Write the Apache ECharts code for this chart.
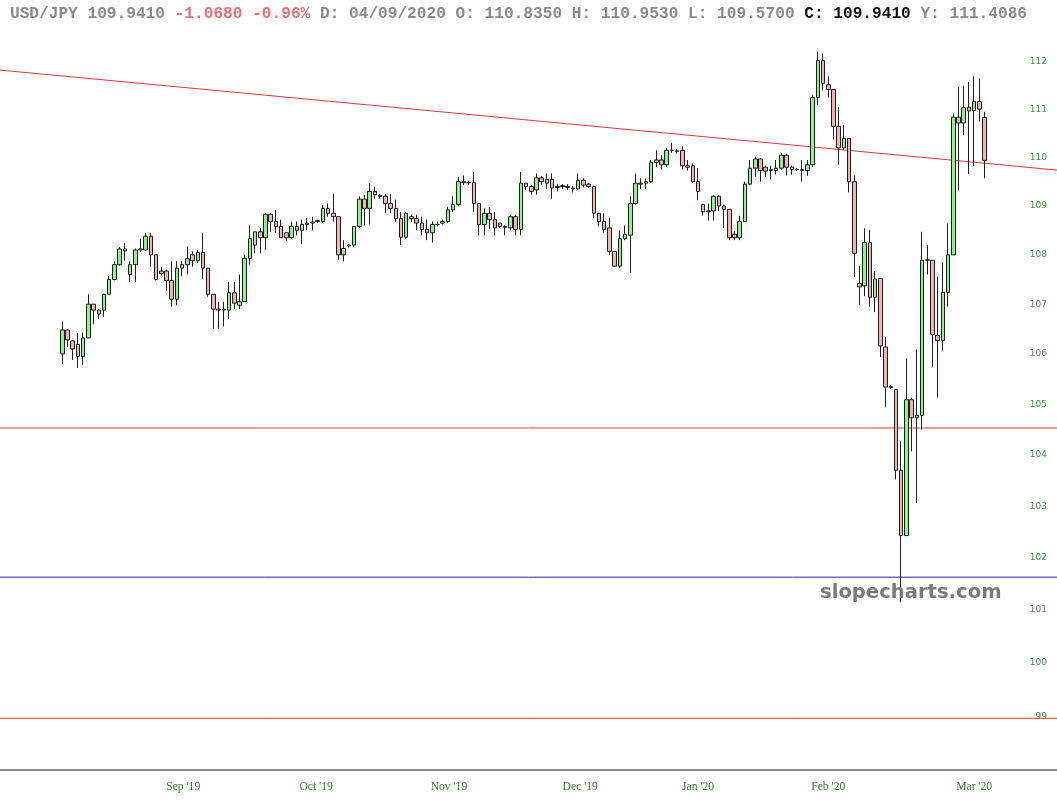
<!DOCTYPE html>
<html><head><meta charset="utf-8">
<script src="https://cdn.jsdelivr.net/npm/echarts@6/dist/echarts.min.js"></script>
<style>html,body{margin:0;padding:0;background:#fff}#c{width:1057px;height:810px}</style>
</head><body><div id="c"></div>
<script>
// ---- data (daily candles, USD/JPY) ----
const openP = [
106.00,106.48,106.26,106.19,105.95,106.32,107.00,106.80,106.88,107.20,
107.50,107.80,108.12,107.60,107.80,108.10,108.10,108.38,108.00,107.62,
107.67,107.48,107.10,107.73,107.80,108.00,107.88,108.05,107.73,107.20,
106.90,106.88,106.88,107.23,106.98,107.05,107.93,108.20,108.47,108.35,
108.83,108.68,108.58,108.45,108.35,108.58,108.50,108.62,108.65,108.68,
108.68,108.95,108.85,108.78,108.00,108.18,108.20,108.58,109.14,108.95,
109.30,109.22,109.20,109.05,108.95,108.74,108.36,108.78,108.74,108.65,
108.52,108.45,108.62,108.65,108.68,108.92,109.03,109.50,109.48,109.48,
109.05,108.62,108.85,108.72,108.65,108.58,108.55,108.78,108.52,109.47,
109.40,109.33,109.58,109.47,109.55,109.40,109.40,109.40,109.37,109.35,
109.53,109.45,109.40,108.85,108.68,108.55,108.07,107.77,108.33,108.40,
109.05,109.45,109.47,109.50,109.90,109.95,109.85,110.15,110.14,110.15,
109.83,109.83,109.50,109.03,108.88,108.90,109.20,109.00,108.93,108.42,
108.35,108.68,109.45,109.78,109.97,109.80,109.73,109.73,109.78,110.05,
109.80,109.75,109.75,109.73,109.85,111.25,112.03,111.52,111.42,110.65,
110.20,110.40,109.50,107.42,107.37,108.25,107.14,107.52,106.14,105.35,
105.29,103.70,102.43,105.09,104.73,104.78,107.89,107.89,106.37,106.27,
107.24,108.00,110.84,110.72,111.05,110.98,111.17,110.835];
const highP = [
106.65,106.50,106.28,106.42,106.43,107.20,107.00,106.90,107.20,107.57,
107.87,108.16,108.24,107.87,108.13,108.33,108.45,108.45,108.00,107.75,
107.70,107.87,107.87,107.87,108.17,108.07,108.10,108.44,107.73,107.20,
107.05,107.05,107.45,107.45,107.60,108.00,108.60,108.47,108.55,108.85,
108.85,108.92,108.72,108.45,108.68,108.68,108.72,108.75,108.78,108.72,
109.02,109.05,109.25,108.78,108.30,108.22,108.58,109.20,109.23,109.47,
109.40,109.25,109.25,109.25,109.13,108.88,108.88,108.82,108.82,108.78,
108.72,108.68,108.68,108.72,108.98,109.20,109.60,109.63,109.52,109.70,
109.05,108.95,108.98,108.88,108.65,108.60,108.82,108.82,109.70,109.47,
109.43,109.67,109.62,109.67,109.67,109.45,109.45,109.45,109.42,109.67,
109.57,109.48,109.42,108.85,108.85,108.75,108.07,108.50,108.60,109.20,
109.67,109.57,109.57,109.95,110.15,110.05,110.20,110.30,110.18,110.23,
109.95,109.88,109.78,109.03,109.05,109.22,109.22,109.03,108.93,108.48,
108.80,109.50,109.95,110.02,109.98,109.83,109.83,109.95,110.10,110.08,
109.83,109.78,109.95,109.95,111.30,112.22,112.18,111.70,111.42,111.05,
110.68,110.40,109.63,107.77,108.54,108.51,107.67,107.52,106.34,105.38,
105.29,104.28,105.91,105.13,106.09,108.47,108.20,107.89,107.56,107.85,
108.64,110.92,111.48,111.50,111.58,111.70,111.65,110.953];
const lowP = [
105.80,106.14,105.88,105.72,105.78,106.32,106.60,106.70,106.75,107.20,
107.48,107.78,107.88,107.45,107.45,108.05,108.08,107.76,107.48,107.58,
107.27,106.95,106.98,107.57,107.60,107.76,107.83,107.50,107.15,106.50,
106.50,106.55,106.70,106.90,106.90,107.05,107.80,108.03,108.03,108.10,
108.47,108.45,108.35,108.28,108.32,108.40,108.22,108.50,108.50,108.65,
108.65,108.78,108.68,107.90,107.87,108.15,108.15,108.55,108.60,108.62,
109.15,109.15,108.85,108.85,108.67,108.20,108.33,108.67,108.50,108.40,
108.30,108.25,108.58,108.62,108.65,108.88,109.00,109.43,109.43,108.88,
108.40,108.40,108.53,108.40,108.55,108.40,108.50,108.40,108.40,109.33,
109.23,109.23,109.44,109.35,109.15,109.30,109.35,109.33,109.28,109.33,
109.38,109.37,108.75,108.58,108.45,108.00,107.75,107.73,108.30,107.63,
109.03,109.35,109.35,109.48,109.80,109.75,109.80,110.10,110.08,109.75,
109.73,109.47,109.12,108.80,108.70,108.70,108.90,108.55,108.30,108.30,
108.30,108.68,109.43,109.60,109.50,109.60,109.55,109.65,109.75,109.63,
109.65,109.72,109.50,109.62,109.80,111.10,111.40,111.25,110.38,109.85,
110.15,109.28,107.55,106.98,107.16,106.95,106.84,105.94,104.95,105.30,
103.52,101.15,102.43,104.07,103.06,104.50,107.60,105.73,105.13,106.05,
106.95,108.00,109.32,110.47,109.66,109.82,110.75,109.57];
const closeP = [
106.48,106.28,106.10,105.95,106.32,107.00,106.88,106.88,107.20,107.50,
107.80,108.12,108.08,107.80,108.10,108.12,108.38,108.00,107.50,107.67,
107.48,107.10,107.73,107.80,107.92,107.88,108.05,107.73,107.20,106.90,
106.88,106.90,107.23,107.02,107.05,107.93,108.33,108.47,108.35,108.83,
108.68,108.58,108.35,108.35,108.58,108.50,108.62,108.65,108.67,108.70,
108.95,108.85,108.78,108.00,108.13,108.20,108.58,109.14,108.95,109.30,
109.23,109.20,109.05,108.95,108.74,108.36,108.85,108.74,108.65,108.52,
108.45,108.62,108.62,108.68,108.92,109.03,109.50,109.48,109.48,109.05,
108.62,108.85,108.72,108.55,108.58,108.56,108.78,108.52,109.47,109.40,
109.30,109.58,109.50,109.55,109.37,109.38,109.42,109.38,109.35,109.53,
109.43,109.40,108.85,108.68,108.52,108.07,107.77,108.33,108.42,109.05,
109.47,109.47,109.50,109.90,109.95,109.85,110.15,110.15,110.13,109.83,
109.80,109.50,109.30,108.88,108.90,109.20,109.00,108.93,108.35,108.35,
108.68,109.45,109.78,109.97,109.73,109.72,109.75,109.78,110.05,109.80,
109.75,109.75,109.73,109.85,111.25,112.03,111.55,111.42,110.65,110.20,
110.40,109.50,108.03,107.35,108.25,107.14,107.51,106.16,105.34,105.33,
103.70,102.43,105.09,104.73,104.78,107.89,107.90,106.39,106.27,107.24,
108.00,110.84,110.72,111.04,110.97,111.17,111.01,109.941];

const monthLabels = ["Sep '19","Oct '19","Nov '19","Dec '19","Jan '20","Feb '20","Mar '20"];
const monthPos = [23.2, 48.7, 74.2, 99.4, 122.0, 147.0, 175.0];   // candle index under each label
const priceTicks = [99,100,101,102,103,104,105,106,107,108,109,110,111,112];
const redLevels = [104.53, 98.96];
const blueLevels = [101.63];
const trendStart = 111.83;   // price of trend line at left edge
const trendEnd = 109.74;     // price of trend line at right edge

// ---- layout ----
const X_MIN = -11.96, X_MAX = 190.9;

const candles = openP.map((o, i) => [i, o, closeP[i], lowP[i], highP[i]]);
const hLine = (v, color) => ({
  type: 'line', silent: true, symbol: 'none', animation: false,
  data: [[X_MIN, v], [X_MAX, v]],
  lineStyle: { color: color, width: 1 }, z: 1
});

const chart = echarts.init(document.getElementById('c'), null, { renderer: 'canvas' });
chart.setOption({
  animation: false,
  backgroundColor: '#ffffff',
  title: [{
    left: 10, top: 6, padding: 0,
    text: '{g|USD/JPY 109.9410 }{r|-1.0680 -0.96%}{g| D: 04/09/2020 O: 110.8350 H: 110.9530 L: 109.5700 }{b|C: 109.9410}{g| Y: 111.4086}',
    textStyle: {
      fontFamily: 'Liberation Mono', fontSize: 16.15,
      rich: {
        g: { color: '#8a8a8a', fontFamily: 'Liberation Mono', fontSize: 16.15 },
        r: { color: '#ea6e70', fontFamily: 'Liberation Mono', fontSize: 16.15 },
        b: { color: '#111111', fontFamily: 'Liberation Mono', fontSize: 16.15, fontWeight: 'bold' }
      }
    }
  }, {
    left: 820, top: 583, padding: 0,
    text: 'slopecharts.com',
    textStyle: { fontFamily: 'DejaVu Sans', fontWeight: 'bold', fontSize: 19.6, color: '#7a7a7a' }
  }],
  grid: { left: 0, right: 0, top: 33.7, bottom: 40, outerBoundsMode: 'none' },
  xAxis: {
    type: 'value', min: X_MIN, max: X_MAX,
    axisLine: { show: true, onZero: false, lineStyle: { color: '#8a8a8a', width: 2 } },
    axisTick: { show: false },
    splitLine: { show: false },
    axisLabel: {
      customValues: monthPos,
      margin: 11,
      color: '#2b7d1e', fontFamily: 'Liberation Serif', fontSize: 11.6,
      formatter: v => {
        let best = 0;
        monthPos.forEach((p, k) => { if (Math.abs(p - v) < Math.abs(monthPos[best] - v)) best = k; });
        return monthLabels[best];
      }
    }
  },
  yAxis: {
    type: 'log', logBase: 10, min: 98.0, max: 112.6, position: 'right',
    axisLine: { show: false }, axisTick: { show: false }, splitLine: { show: false },
    axisLabel: {
      inside: true, margin: 10, customValues: priceTicks,
      color: '#3c8f3c', fontFamily: 'DejaVu Sans', fontSize: 9,
      formatter: v => String(Math.round(v))
    }
  },
  series: [
    ...redLevels.map(v => hLine(v, '#e53535')),
    ...blueLevels.map(v => hLine(v, '#2a2aa8')),
    {
      type: 'line', silent: true, symbol: 'none', z: 1,
      data: [[X_MIN, trendStart], [X_MAX, trendEnd]],
      lineStyle: { color: '#e53535', width: 1 }
    },
    {
      type: 'candlestick',
      data: candles,
      encode: { x: 0, y: [1, 2, 3, 4] },
      barWidth: 4,
      z: 3,
      itemStyle: {
        color: '#93ef93', color0: '#f4b3b3',
        borderColor: '#1e1e1e', borderColor0: '#1e1e1e', borderColorDoji: '#1e1e1e',
        borderWidth: 1
      }
    }
  ]
});
</script>
</body></html>
